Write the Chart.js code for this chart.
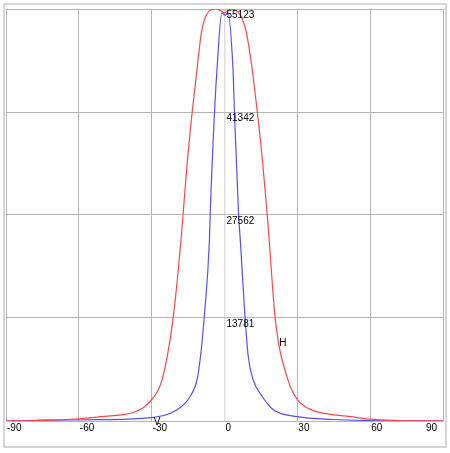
<!DOCTYPE html>
<html>
<head>
<meta charset="utf-8">
<script src="https://cdn.jsdelivr.net/npm/chart.js@4/dist/chart.umd.min.js"></script>
<style>
  html,body{margin:0;padding:0;background:#fff;}
  #wrap{position:relative;width:450px;height:453px;}
  #frame{position:absolute;left:3px;top:3px;width:440px;height:441px;border:2px solid #d6d6d6;}
  #c{position:absolute;left:0;top:0;}
</style>
</head>
<body>
<div id="wrap">
  <div id="frame"></div>
  <canvas id="c" width="450" height="453"></canvas>
</div>
<script>
/* ------------- DATA ------------- */
// H curve (red): angle in degrees, value
const hDeg = [-90,-80,-72,-60,-51,-38,-33.5,-30,-25.7,-21.2,-17.9,-15.5,-13.3,-11,-9.5,-7.5,-3.8,-1.5,0,2.4,6.5,9,11,13.5,15.6,17.6,18.4,20.9,26.1,30,34,39.5,52,60,72,80,90];
const hVal = [0,30,107,300,575,1110,1780,2850,5525,13700,24250,34000,41380,48000,52000,54300,55123,54900,54600,55100,54300,52000,48000,41380,35000,27600,24250,13700,5525,2850,1780,1110,575,240,60,20,0];

// V curve (blue)
const vDeg = [-90,-72,-51,-30.7,-19.5,-14.2,-11.3,-9.9,-8.4,-6.2,-5.9,-4.1,-3.1,-1.1,0.3,1.4,3.5,4.1,5.8,6.5,8.5,9.8,11.8,15.6,20.1,30,45,60,75,90];
const vVal = [0,107,174,440,1510,3250,5525,8600,13685,24250,27600,41380,47000,54600,54300,54600,47000,41380,27600,24250,13685,8600,5525,3250,1510,575,200,60,20,0];

const xTicks = [-90,-60,-30,0,30,60,90];
const yTicks = [0,13781,27562,41342,55123];

// curve name labels (data coords)
const curveLabels = [
  {text:"H", x:24.0, y:10380},
  {text:"V", x:-27.8, y:-160}
];

/* ------------- HELPERS ------------- */
const pts = (xs, ys) => xs.map((x,i) => ({x, y: ys[i]}));
const FONT = "10px 'Liberation Sans', Arial, sans-serif";

const labelPlugin = {
  id:"labels",
  afterDraw(chart){
    const ctx = chart.ctx;
    const xs = chart.scales.x, ys = chart.scales.y;
    const x0 = xs.getPixelForValue(0);
    ctx.save();
    ctx.font = FONT;
    ctx.fillStyle = "#000";
    // y values along the zero line
    ctx.textAlign = "left";
    ctx.textBaseline = "top";
    yTicks.forEach(v => {
      if (v === 0) return;
      ctx.fillText(String(v), x0 + 2, ys.getPixelForValue(v) + 1);
    });
    // x labels under the axis
    const yb = ys.getPixelForValue(0) + 2;
    xTicks.forEach((v,i) => {
      const px = xs.getPixelForValue(v);
      if (i === xTicks.length - 1){
        ctx.textAlign = "right";
        ctx.fillText(String(v), px - 6, yb);
      } else {
        ctx.textAlign = "left";
        ctx.fillText(String(v), px + 1, yb);
      }
    });
    // curve names
    ctx.textAlign = "center";
    ctx.textBaseline = "middle";
    curveLabels.forEach(l => {
      ctx.fillText(l.text, xs.getPixelForValue(l.x), ys.getPixelForValue(l.y));
    });
    ctx.restore();
  }
};

/* ------------- CHART ------------- */
new Chart(document.getElementById("c"), {
  type:"scatter",
  data:{
    datasets:[
      {label:"H", data:pts(hDeg,hVal), showLine:true, borderColor:"rgb(255,70,70)", borderWidth:1.2, pointRadius:0, cubicInterpolationMode:"monotone"},
      {label:"V", data:pts(vDeg,vVal), showLine:true, borderColor:"rgb(80,80,255)", borderWidth:1.2, pointRadius:0, cubicInterpolationMode:"monotone"}
    ]
  },
  options:{
    responsive:false,
    animation:false,
    events:[],
    layout:{padding:{left:6, top:9, right:7, bottom:32}},
    plugins:{legend:{display:false}, tooltip:{enabled:false}},
    scales:{
      x:{
        type:"linear", min:-90, max:90,
        afterBuildTicks: s => { s.ticks = xTicks.map(v => ({value:v})); },
        ticks:{display:false},
        grid:{drawTicks:false, color: c => c.tick && c.tick.value === 0 ? "#dedede" : "#b4b4b4", lineWidth: c => c.tick && c.tick.value === 0 ? 1.5 : 1},
        border:{color:"#b4b4b4"}
      },
      y:{
        type:"linear", min:0, max:55123,
        afterBuildTicks: s => { s.ticks = yTicks.map(v => ({value:v})); },
        ticks:{display:false},
        grid:{drawTicks:false, color:"#b4b4b4"},
        border:{color:"#b4b4b4"}
      }
    }
  },
  plugins:[labelPlugin]
});
</script>
</body>
</html>
